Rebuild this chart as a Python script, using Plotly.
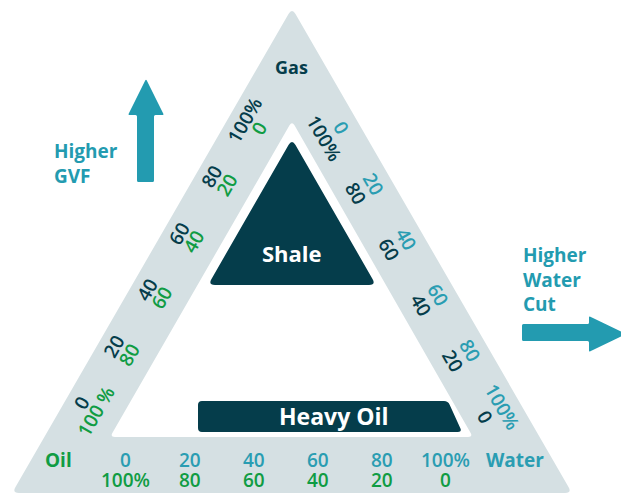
import math
import plotly.graph_objects as go

# ---------------- data ----------------
tick_values = [0, 20, 40, 60, 80, 100]
left_gas_labels = ["0", "20", "40", "60", "80", "100%"]      # dark, outer row of left side
left_oil_labels = ["100 %", "80", "60", "40", "20", "0"]     # green, inner row of left side
right_water_labels = ["0", "20", "40", "60", "80", "100%"]   # teal, outer row of right side
right_gas_labels = ["100%", "80", "60", "40", "20", "0"]     # dark, inner row of right side
bottom_water_labels = ["0", "20", "40", "60", "80", "100%"]  # teal, upper row of bottom
bottom_oil_labels = ["100%", "80", "60", "40", "20", "0"]    # green, lower row of bottom
corner_labels = ["Gas", "Oil", "Water"]
region_labels = ["Shale", "Heavy Oil"]
arrow_labels = ["Higher<br>GVF", "Higher<br>Water<br>Cut"]

# ---------------- styles ----------------
W, H = 629, 495
PAGE_OFFSET = 8  # default body margin of the html page
BAND = "#d5e0e3"
DARK = "#053d4b"
GREEN = "#109c43"
TEAL = "#2a9db2"
ARROW = "#239bb0"
FONT = "Open Sans"

fig = go.Figure()
fig.add_trace(go.Scatter(x=[], y=[], mode="markers", showlegend=False))


def rounded_path(pts, r):
    n = len(pts)
    segs = []
    for i in range(n):
        p0 = pts[i - 1]
        p1 = pts[i]
        p2 = pts[(i + 1) % n]
        d1 = (p0[0] - p1[0], p0[1] - p1[1])
        d2 = (p2[0] - p1[0], p2[1] - p1[1])
        l1 = math.hypot(*d1)
        l2 = math.hypot(*d2)
        rr = min(r, l1 / 2, l2 / 2)
        a = (p1[0] + d1[0] / l1 * rr, p1[1] + d1[1] / l1 * rr)
        b = (p1[0] + d2[0] / l2 * rr, p1[1] + d2[1] / l2 * rr)
        segs.append((a, p1, b))
    path = f"M {segs[0][2][0]:.2f},{segs[0][2][1]:.2f} "
    for k in range(1, n + 1):
        a, c, b = segs[k % n]
        path += f"L {a[0]:.2f},{a[1]:.2f} Q {c[0]:.2f},{c[1]:.2f} {b[0]:.2f},{b[1]:.2f} "
    return path + "Z"


def add_poly(pts, color, r):
    fig.add_shape(type="path", path=rounded_path(pts, r), xref="x", yref="y",
                  fillcolor=color, line=dict(width=0), layer="below")


# triangle geometry
BL, APEX, BR = (12, 493), (292, 8), (572, 493)
IBL, IAPEX, IBR = (110, 437), (292, 121), (473, 437)

add_poly([BL, APEX, BR], BAND, 7)
add_poly([IBL, IAPEX, IBR], "white", 5)
add_poly([(208, 285), (292, 139), (376, 285)], DARK, 7)
add_poly([(198, 401), (448, 401), (462, 432), (198, 432)], DARK, 4)

# arrows
add_poly([(137, 182), (137, 115), (128, 115), (146, 79), (164, 115), (154, 115), (154, 182)], ARROW, 1.5)
add_poly([(522, 324), (589, 324), (589, 316), (626, 334), (589, 352), (589, 341), (522, 341)], ARROW, 1.5)


def ann(x, y, text, color, size=19, weight=600, angle=0, xanchor="center", align="center"):
    fig.add_annotation(x=x, y=y, xref="x", yref="y", text=text, showarrow=False,
                       textangle=angle, xanchor=xanchor, yanchor="middle", align=align,
                       font=dict(family=FONT, size=size, color=color, weight=weight))


s3 = math.sqrt(3) / 2
# left side: along edge from bottom-left towards apex
u_l, n_l = (0.5, -s3), (s3, 0.5)
for i, v in enumerate(tick_values):
    along = 113 + 65.3 * i
    for lab, perp, col in ((left_gas_labels[i], 15, DARK), (left_oil_labels[i], 32, GREEN)):
        x = BL[0] + u_l[0] * along + n_l[0] * perp
        y = BL[1] + u_l[1] * along + n_l[1] * perp
        ann(x, y, lab, col, angle=-60)

# right side: along edge from apex towards bottom-right
u_r, n_r = (0.5, s3), (-s3, 0.5)
for i, v in enumerate(tick_values):
    along = 128.5 + 64.4 * i
    for lab, perp, col in ((right_water_labels[i], 17, TEAL), (right_gas_labels[i], 37, DARK)):
        x = APEX[0] + u_r[0] * along + n_r[0] * perp
        y = APEX[1] + u_r[1] * along + n_r[1] * perp
        ann(x, y, lab, col, angle=60)

# bottom side
for i, v in enumerate(tick_values):
    x = 125.4 + 64.1 * i
    ann(x, 460, bottom_water_labels[i], TEAL)
    ann(x, 480, bottom_oil_labels[i], GREEN)

# corner labels
ann(291, 67, corner_labels[0], DARK, size=18, weight=700)
ann(58, 460, corner_labels[1], GREEN, size=19, weight=700)
ann(515, 460, corner_labels[2], TEAL, size=19, weight=700)

# region labels
ann(292, 253, region_labels[0], "white", size=22, weight=700)
ann(334, 416, region_labels[1], "white", size=23, weight=700)

# arrow labels
ann(52, 163, arrow_labels[0], ARROW, size=19, weight=700, xanchor="left", align="left")
ann(521, 279, arrow_labels[1], ARROW, size=19, weight=700, xanchor="left", align="left")

fig.update_layout(
    width=W - PAGE_OFFSET, height=H - PAGE_OFFSET, margin=dict(l=0, r=0, t=0, b=0),
    paper_bgcolor="white", plot_bgcolor="white", showlegend=False,
    xaxis=dict(range=[PAGE_OFFSET, W], visible=False, fixedrange=True),
    yaxis=dict(range=[H, PAGE_OFFSET], visible=False, fixedrange=True),
)
fig.write_html("out.html")
